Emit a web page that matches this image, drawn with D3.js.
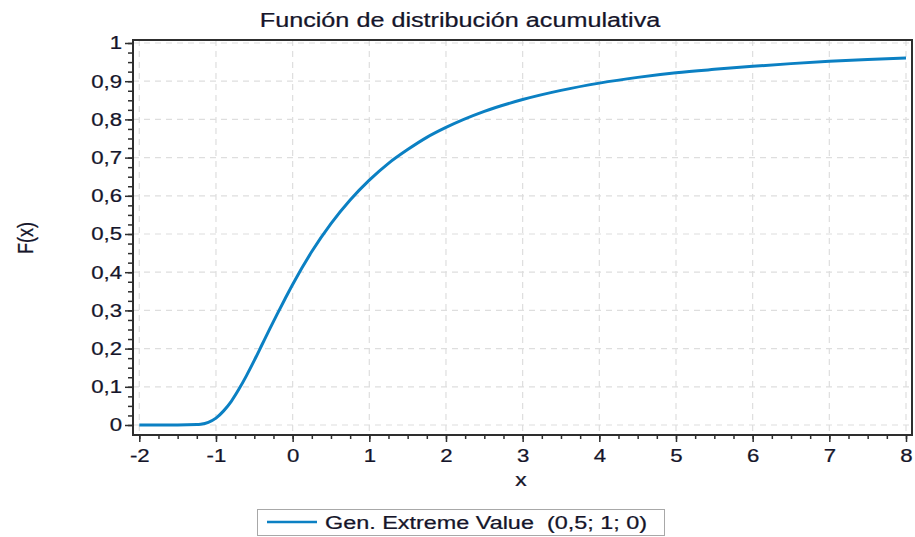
<!DOCTYPE html>
<html>
<head>
<meta charset="utf-8">
<script src="https://cdn.jsdelivr.net/npm/d3@7"></script>
<style>
  body { margin: 0; background: #fff; }
  svg { display: block; font-family: "Liberation Sans", Arial, sans-serif; }
  text { fill: #15152a; stroke: #15152a; stroke-width: 0.25px; }
</style>
</head>
<body>
<svg id="chart" width="915" height="537"></svg>
<script>
// curve: x and F(x)
const xs = [-2, -1.5, -1.25, -1.2, -1.1, -1, -0.9, -0.8, -0.7, -0.6, -0.5, -0.4, -0.3, -0.2, -0.1,
  0, 0.25, 0.5, 0.75, 1, 1.25, 1.5, 1.75, 2, 2.5, 3, 3.5, 4, 4.5, 5, 5.5, 6, 6.5, 7, 7.5, 8];
const Fx = [0, 0, 0.001, 0.002, 0.007, 0.018, 0.037, 0.062, 0.094, 0.130, 0.169, 0.210, 0.251, 0.291, 0.330,
  0.368, 0.454, 0.527, 0.589, 0.641, 0.685, 0.721, 0.753, 0.779, 0.821, 0.852, 0.876, 0.895, 0.910, 0.922, 0.931, 0.939, 0.946, 0.952, 0.957, 0.961];

const xTicks = [-2, -1, 0, 1, 2, 3, 4, 5, 6, 7, 8];
const xTickLabels = ["-2", "-1", "0", "1", "2", "3", "4", "5", "6", "7", "8"];
const yTicks = [0, 0.1, 0.2, 0.3, 0.4, 0.5, 0.6, 0.7, 0.8, 0.9, 1];
const yTickLabels = ["0", "0,1", "0,2", "0,3", "0,4", "0,5", "0,6", "0,7", "0,8", "0,9", "1"];
const xMinor = d3.range(-2, 8.001, 0.25);
const yMinor = d3.range(0, 1.0001, 0.025);

const title = "Función de distribución acumulativa";
const xLabel = "x";
const yLabel = "F(x)";
const seriesName = "Gen. Extreme Value\u00a0 (0,5; 1; 0)";

const lineColor = "#0b80c3";
const sx = 1.2; // the original text is a bit wide

let plotL = 133, plotR = 912, plotT = 40, plotB = 435;

let x = d3.scaleLinear().domain([-2, 8]).range([plotL + 6.3, plotR - 6]);
let y = d3.scaleLinear().domain([0, 1]).range([plotB - 10, plotT + 3]);

let svg = d3.select("#chart");

// grid
svg.append("g")
  .selectAll("line")
  .data(xTicks)
  .join("line")
  .attr("x1", d => x(d)).attr("x2", d => x(d))
  .attr("y1", plotT).attr("y2", plotB)
  .attr("stroke", "#dedede").attr("stroke-width", 1.2)
  .attr("stroke-dasharray", "6,5");
svg.append("g")
  .selectAll("line")
  .data(yTicks)
  .join("line")
  .attr("x1", plotL).attr("x2", plotR)
  .attr("y1", d => y(d)).attr("y2", d => y(d))
  .attr("stroke", "#dedede").attr("stroke-width", 1.2)
  .attr("stroke-dasharray", "6,5");

// curve
let line = d3.line()
  .x((d, i) => x(xs[i]))
  .y(d => y(d))
  .curve(d3.curveMonotoneX);
svg.append("path")
  .attr("fill", "none")
  .attr("stroke", lineColor)
  .attr("stroke-width", 3)
  .attr("d", line(Fx));

// frame
svg.append("rect")
  .attr("x", plotL).attr("y", plotT)
  .attr("width", plotR - plotL).attr("height", plotB - plotT)
  .attr("fill", "none").attr("stroke", "#2e2e2e").attr("stroke-width", 2);

// minor ticks
svg.append("g")
  .attr("transform", `translate(0, ${plotB})`)
  .call(d3.axisBottom(x).tickValues(xMinor).tickSize(4).tickFormat(""))
  .call(g => g.select(".domain").remove())
  .selectAll("line").attr("stroke", "#2e2e2e").attr("stroke-width", 1.5);
svg.append("g")
  .attr("transform", `translate(${plotL}, 0)`)
  .call(d3.axisLeft(y).tickValues(yMinor).tickSize(5).tickFormat(""))
  .call(g => g.select(".domain").remove())
  .selectAll("line").attr("stroke", "#2e2e2e").attr("stroke-width", 1.5);

// major ticks
let xg = svg.append("g")
  .attr("transform", `translate(0, ${plotB})`)
  .call(d3.axisBottom(x).tickValues(xTicks).tickSize(7).tickPadding(7)
    .tickFormat((d, i) => xTickLabels[i]));
xg.select(".domain").remove();
xg.selectAll("line").attr("stroke", "#2e2e2e").attr("stroke-width", 1.5);
xg.selectAll("text")
  .attr("font-size", 18.5)
  .attr("transform", `scale(${sx},1)`);
xg.attr("font-family", null);

let yg = svg.append("g")
  .attr("transform", `translate(${plotL}, 0)`)
  .call(d3.axisLeft(y).tickValues(yTicks).tickSize(8).tickPadding(3)
    .tickFormat((d, i) => yTickLabels[i]));
yg.select(".domain").remove();
yg.selectAll("line").attr("stroke", "#2e2e2e").attr("stroke-width", 1.5);
yg.selectAll("text")
  .attr("font-size", 18.5)
  .attr("x", -11 / sx)
  .attr("transform", `scale(${sx},1)`);
yg.attr("font-family", null);

// title and axis labels
svg.append("text")
  .attr("transform", `translate(460, 27) scale(${sx},1)`)
  .attr("text-anchor", "middle")
  .attr("font-size", 21)
  .text(title);

svg.append("text")
  .attr("transform", `translate(521, 486) scale(${sx},1)`)
  .attr("text-anchor", "middle")
  .attr("font-size", 19)
  .text(xLabel);

svg.append("text")
  .attr("transform", `translate(33, 238) scale(${sx},1) rotate(-90)`)
  .attr("text-anchor", "middle")
  .attr("font-size", 18)
  .text(yLabel);

// legend
let lg = svg.append("g");
lg.append("rect")
  .attr("x", 257.5).attr("y", 509.5)
  .attr("width", 407).attr("height", 26)
  .attr("fill", "#fff").attr("stroke", "#a8a8a8").attr("stroke-width", 1);
lg.append("line")
  .attr("x1", 267).attr("x2", 317)
  .attr("y1", 522).attr("y2", 522)
  .attr("stroke", lineColor).attr("stroke-width", 2.5);
lg.append("text")
  .attr("transform", `translate(325, 529) scale(${sx},1)`)
  .attr("font-size", 18.5)
  .attr("textLength", 322 / sx)
  .attr("lengthAdjust", "spacingAndGlyphs")
  .text(seriesName);
</script>
</body>
</html>
